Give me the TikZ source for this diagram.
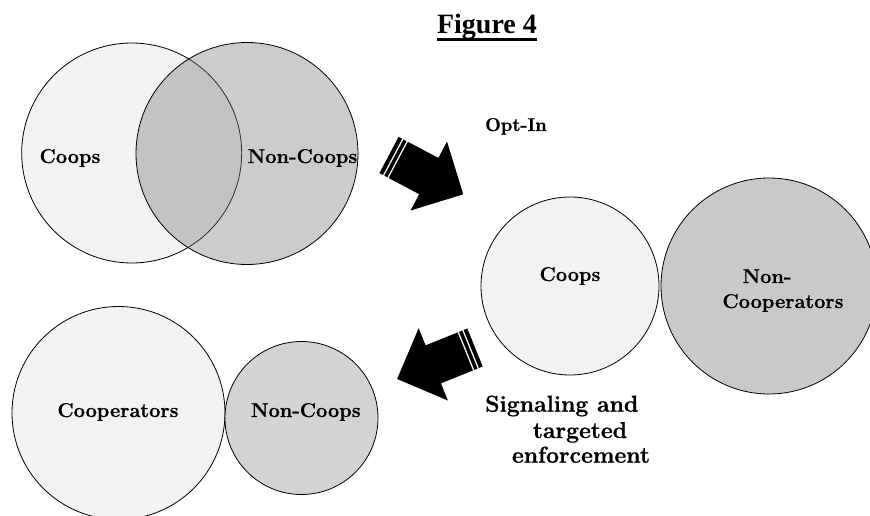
\documentclass[tikz,border=0pt]{standalone}
\usepackage{fontspec}
\newfontfamily\titlefont{Liberation Serif}
\newfontfamily\lblfont{Latin Modern Roman}[BoldFeatures={FakeBold=0.8}]
\usetikzlibrary{calc}
\definecolor{lightfill}{HTML}{F2F2F2}
\definecolor{venngray}{HTML}{7A7A7A}
\definecolor{bigdark}{HTML}{C9C9C9}
\definecolor{smalldark}{HTML}{D3D3D3}
\begin{document}
\begin{tikzpicture}[x=1pt,y=-1pt,
  ring/.style={circle, draw=black, line width=0.8pt, inner sep=0pt},
  lbl/.style={font=\lblfont\bfseries\fontsize{20}{24}\selectfont, inner sep=0pt, anchor=base},
  biglbl/.style={font=\lblfont\bfseries\fontsize{23}{26}\selectfont, inner sep=0pt, anchor=base},
  optlbl/.style={font=\lblfont\bfseries\fontsize{18.5}{21}\selectfont, inner sep=0pt, anchor=base west},
  titlelbl/.style={font=\titlefont\bfseries\fontsize{28}{32}\selectfont, inner sep=0pt, anchor=base},
  blockarrow/.pic={
    \fill[black] (0,-20.5) rectangle (4,20.5);
    \fill[black] (5.5,-20.5) rectangle (9,20.5);
    \fill[black] (10.5,-20.5) -- (45,-20.5) -- (45,-39) -- (84,0) -- (45,39) -- (45,20.5) -- (10.5,20.5) -- cycle;
  }]
\useasboundingbox (0,0) rectangle (870,516);

% title
\node[titlelbl] (title) at (487,34) {Figure 4};
\draw[line width=2.6pt] ($(title.base west)+(0,5.5)$) -- ($(title.base east)+(0,5.5)$);

% top Venn
\node[ring, fill=lightfill, minimum size=220pt] (vennL) at (131.7,153) {};
\node[ring, fill=venngray, fill opacity=0.385, minimum size=222pt] (vennR) at (247,153.5) {};
\node[lbl] (t1) at (70,163) {Coops};
\node[lbl] (t2) at (302.5,163) {Non-Coops};

% middle
\node[ring, fill=lightfill, minimum size=178pt] (midL) at (570,286) {};
\node[ring, fill=bigdark, minimum size=216pt] (midR) at (769,286) {};
\node[lbl] (t3) at (570,281) {Coops};
\node[lbl] (t4) at (767,283) {Non-};
\node[lbl] (t5) at (783,308) {Cooperators};

% bottom
\node[ring, fill=lightfill, minimum size=213pt] (botL) at (118.5,413) {};
\node[ring, fill=smalldark, minimum size=153pt] (botR) at (301.5,418) {};
\node[lbl] (t6) at (118,417) {Cooperators};
\node[lbl] (t7) at (305.8,417) {Non-Coops};

% labels
\node[optlbl] (optin) at (485,131) {Opt-In};
\node[biglbl, anchor=base west] (s1) at (485,411.7) {Signaling and};
\node[biglbl] (s2) at (580,438) {targeted};
\node[biglbl] (s3) at (581,462.7) {enforcement};

% arrows
\pic[shift={(389,155)}, rotate=-27.9] {blockarrow};
\pic[shift={(475,347.5)}, rotate=202] {blockarrow};
\end{tikzpicture}
\end{document}
